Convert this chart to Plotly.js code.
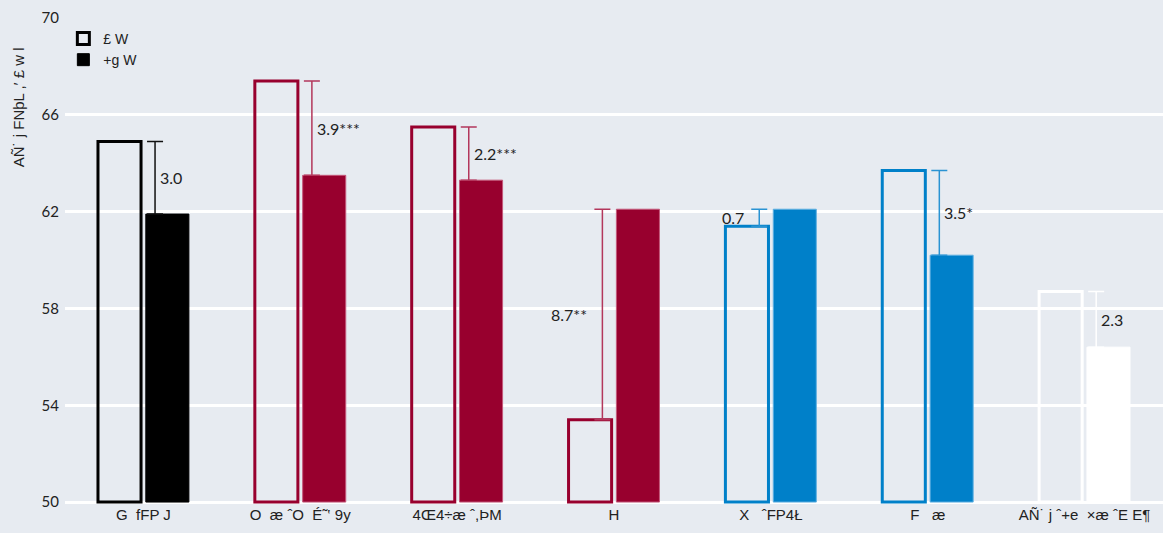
<!DOCTYPE html>
<html>
<head>
<meta charset="utf-8">
<script src="https://cdn.plot.ly/plotly-3.0.1.min.js"></script>
<style>html,body{margin:0;padding:0;background:#e7ebf1;}#chart{width:1163px;height:533px;}</style>
</head>
<body>
<div id="chart"></div>
<script>
const categories = ["G\u00a0\u00a0fFP J", "O\u00a0\u00a0æ ˆO\u00a0\u00a0É˜‛ 9y", "4Œ4÷æ ˆ,ÞM", "H", "X\u00a0\u00a0\u00a0ˆFP4Ł", "F\u00a0\u00a0\u00a0æ", "AÑ˙ j ˆ+e\u00a0\u00a0×æ ˆE E¶"];
const beforeValues = [64.9, 67.4, 65.5, 53.4, 61.4, 63.7, 58.7];
const afterValues = [61.9, 63.5, 63.3, 62.1, 62.1, 60.2, 56.4];
const diffLabels = ["3.0", "3.9***", "2.2***", "8.7**", "0.7", "3.5*", "2.3"];
const legendNames = ["£ W", "+g W"];
const yTitle = "AÑ˙ j FNþL ,′ £ w l";
const yTicks = [50, 54, 58, 62, 66, 70];
const axisFloor = 50;

const barColors = ["#000000", "#98002e", "#98002e", "#98002e", "#0080c9", "#0080c9", "#ffffff"];
const barEdge = ["#000000", "#c4587a", "#c4587a", "#c4587a", "#5fb0e2", "#5fb0e2", "#ffffff"];
const errColors = ["#111111", "#b3375c", "#b3375c", "#b3375c", "#2a93d3", "#2a93d3", "#ffffff"];

const off = 0.074;
const traces = [
  {type: "bar", x: categories, y: beforeValues.map(v => v - axisFloor), base: axisFloor, name: legendNames[0],
   marker: {color: "rgba(0,0,0,0)", line: {color: barColors, width: 3}}, hoverinfo: "skip"},
  {type: "bar", x: categories, y: afterValues.map(v => v - axisFloor), base: axisFloor, name: legendNames[1],
   marker: {color: barColors, line: {color: barEdge, width: 1}}, hoverinfo: "skip"}
];
const annotations = [];
categories.forEach((c, i) => {
  const b = beforeValues[i], a = afterValues[i];
  const pos = b > a ? i + off : i - off;
  const lo = Math.min(a, b), span = Math.abs(a - b);
  traces.push({type: "scatter", mode: "markers", xaxis: "x2", x: [pos], y: [lo],
    marker: {size: 1, color: "rgba(0,0,0,0)"}, showlegend: false, hoverinfo: "skip",
    error_y: {type: "data", symmetric: false, array: [span], arrayminus: [0],
      color: errColors[i], thickness: 1.5, width: 8}});
  annotations.push({xref: "x2", yref: "y", x: pos, y: (a + b) / 2, text: diffLabels[i],
    showarrow: false, xanchor: b > a ? "left" : "right", yanchor: "middle", xshift: b > a ? 3 : -13,
    font: {family: "Lato, 'Open Sans', sans-serif", size: 16, color: "#222"}});
});
annotations.push({xref: "paper", yref: "paper", x: 0, y: 0.944, xanchor: "center", yanchor: "top", xshift: -47, textangle: -90,
  text: yTitle, showarrow: false, font: {family: "'Liberation Sans', Arial, sans-serif", size: 15, color: "#222"}});

const layout = {
  width: 1163, height: 533,
  margin: {l: 65, r: 0, t: 18, b: 29},
  paper_bgcolor: "#e7ebf1", plot_bgcolor: "#e7ebf1",
  barmode: "group", bargap: 0.39, bargroupgap: 0.1,
  showlegend: true,
  legend: {x: -0.0015, y: 0.99, xanchor: "left", yanchor: "top", bgcolor: "rgba(0,0,0,0)",
    font: {family: "'Liberation Sans', Arial, sans-serif", size: 14, color: "#222"}, tracegroupgap: 0},
  xaxis: {type: "category", showgrid: false, zeroline: false, showline: false, ticks: "",
    tickfont: {family: "'Liberation Sans', Arial, sans-serif", size: 15, color: "#222"}},
  xaxis2: {overlaying: "x", range: [-0.5, 6.5], visible: false},
  yaxis: {range: [49.92, 70], tickvals: yTicks, showgrid: true, gridcolor: "#ffffff", gridwidth: 3,
    zeroline: false, showline: false, ticks: "", ticklabelstandoff: 5,
    tickfont: {family: "Lato, 'Open Sans', sans-serif", size: 15, color: "#222"}},
  annotations: annotations
};
Plotly.newPlot("chart", traces, layout, {displayModeBar: false, staticPlot: true});
</script>
</body>
</html>
